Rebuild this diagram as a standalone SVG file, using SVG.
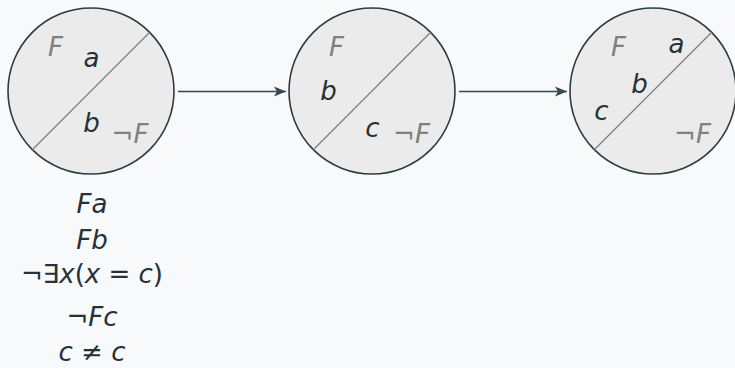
<svg xmlns="http://www.w3.org/2000/svg" width="735" height="368" viewBox="0 0 735 368">
<defs>
<style>
.bg{fill:#f8f9fa}
.world{fill:#ebebeb;stroke:#2b3b44;stroke-width:1.6}
.div{stroke:#808080;stroke-width:1.3}
.t{font-family:"DejaVu Sans",sans-serif;font-size:26px;font-style:italic;text-anchor:middle;fill:#263238}
.g{fill:#808080}
.u{font-style:normal}
.edge{stroke:#37474f;stroke-width:1.6;fill:none;marker-end:url(#ah)}
</style>
<marker id="ah" markerWidth="14" markerHeight="12" refX="12" refY="6" orient="auto" markerUnits="userSpaceOnUse">
<path d="M0,1 L12,6 L0,11 L3,6 Z" fill="#37474f"/>
</marker>
</defs>
<rect class="bg" x="0" y="0" width="735" height="368"/>
<g id="connectors">
<line class="edge" x1="178" y1="91.5" x2="286" y2="91.5"/>
<line class="edge" x1="459" y1="91.5" x2="567" y2="91.5"/>
</g>
<g id="w1">
<circle class="world" cx="91" cy="91" r="83"/>
<line class="div" x1="149.7" y1="32.3" x2="32.3" y2="149.7"/>
<text class="t g" x="55.5" y="56">F</text>
<text class="t" x="91.5" y="67">a</text>
<text class="t" x="91.5" y="132">b</text>
<text class="t g" x="130" y="143"><tspan class="u">¬</tspan>F</text>
</g>
<g id="w2">
<circle class="world" cx="372" cy="91" r="83"/>
<line class="div" x1="430.7" y1="32.3" x2="313.3" y2="149.7"/>
<text class="t g" x="336.5" y="56">F</text>
<text class="t" x="328.5" y="100">b</text>
<text class="t" x="372.5" y="137">c</text>
<text class="t g" x="411.5" y="143"><tspan class="u">¬</tspan>F</text>
</g>
<g id="w3">
<circle class="world" cx="653" cy="91" r="83"/>
<line class="div" x1="711.7" y1="32.3" x2="594.3" y2="149.7"/>
<text class="t g" x="618.5" y="56">F</text>
<text class="t" x="676.5" y="53">a</text>
<text class="t" x="639.5" y="93">b</text>
<text class="t" x="601.5" y="120">c</text>
<text class="t g" x="692.5" y="143"><tspan class="u">¬</tspan>F</text>
</g>
<g id="formulas">
<text class="t" x="92" y="213">Fa</text>
<text class="t" x="92" y="249">Fb</text>
<text class="t" x="92" y="283"><tspan class="u">¬∃</tspan>x<tspan class="u">(</tspan>x <tspan class="u">=</tspan> c<tspan class="u">)</tspan></text>
<text class="t" x="92" y="326"><tspan class="u">¬</tspan>Fc</text>
<text class="t" x="92" y="361">c <tspan class="u">≠</tspan> c</text>
</g>
</svg>
